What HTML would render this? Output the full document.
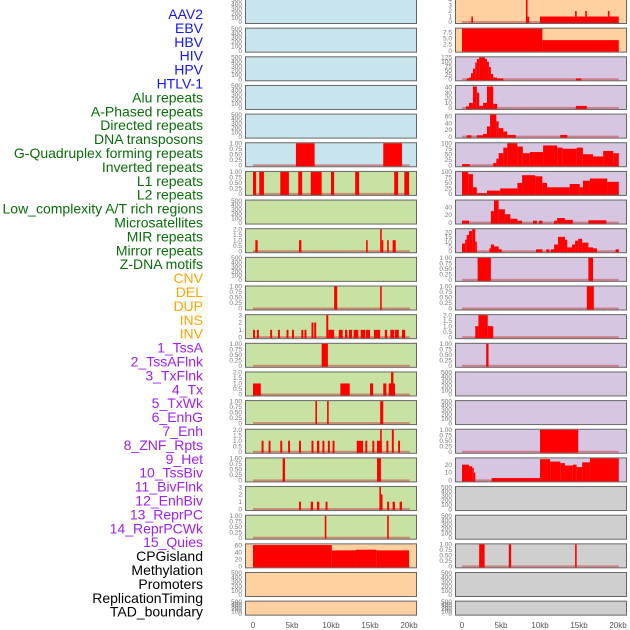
<!DOCTYPE html>
<html><head><meta charset="utf-8">
<style>
html,body{margin:0;padding:0;background:#fff;width:630px;height:630px;overflow:hidden}
svg{display:block}
.lab{font-family:"Liberation Sans",sans-serif;font-size:14px}
.tk{font-family:"Liberation Sans",sans-serif;font-size:6.5px;fill:#777}
.xt{font-family:"Liberation Sans",sans-serif;font-size:8px;fill:#555}
</style></head><body>
<svg id="chart" width="630" height="630"></svg>
<script>
const labels=["AAV2","EBV","HBV","HIV","HPV","HTLV-1","Alu repeats","A-Phased repeats","Directed repeats","DNA transposons","G-Quadruplex forming repeats","Inverted repeats","L1 repeats","L2 repeats","Low_complexity A/T rich regions","Microsatellites","MIR repeats","Mirror repeats","Z-DNA motifs","CNV","DEL","DUP","INS","INV","1_TssA","2_TssAFlnk","3_TxFlnk","4_Tx","5_TxWk","6_EnhG","7_Enh","8_ZNF_Rpts","9_Het","10_TssBiv","11_BivFlnk","12_EnhBiv","13_ReprPC","14_ReprPCWk","15_Quies","CPGisland","Methylation","Promoters","ReplicationTiming","TAD_boundary"];
const labelGroups=[0,0,0,0,0,0,1,1,1,1,1,1,1,1,1,1,1,1,1,2,2,2,2,2,3,3,3,3,3,3,3,3,3,3,3,3,3,3,3,4,4,4,4,4];
const groupColors=["#1414ff","#0a6e0a","#ffa500","#a020f0","#000"];
const xTickLabels=["0","5kb","10kb","15kb","20kb"];
const xTickValues=[0,5,10,15,20];
const E=[0,100,200,300,400,500],P=[0,0.25,0.5,0.75,1],H=[0,0.5,1,1.5,2],T3=[0,1,2,3];
const leftBg=["b","b","b","b","b","b","g","g","g","g","g","g","g","g","g","g","g","g","g","o","o","o"];
const rightBg=["o","o","p","p","p","p","p","p","p","p","p","p","p","p","p","p","p","y","y","y","y","y"];
const leftTicks=[E,E,E,E,E,P,P,E,H,E,P,T3,P,H,P,H,P,T3,P,[0,20,40,60],E,E];
const leftMax=[500,500,500,500,500,1,1,500,2,500,1,3,1,2,1,2,1,3,1,62,500,500];
const rightTicks=[[0,1,2,3,4],[0,2.5,5,7.5],[0,25,50,75,100,125],[0,10,20,30,40],[0,20,40,60],[0,25,50,75,100],[0,25,50,75,100],[0,20,40],[0,5,10,15,20],P,P,H,P,E,E,P,[0,10,20],E,E,P,E,E];
const rightMax=[4,9,125,43,65,100,100,58,23,1,1,2,1,500,500,1,28,500,500,1,500,500];
const leftSegs=[[],[],[],[],[],
[[5.5,7.9,1],[16.7,19.1,1]],
[[0,0.4,1],[0.8,1.4,1],[3.5,4.6,1],[5.8,6.3,1],[7.4,8.8,1],[10.0,10.4,1],[13.1,13.6,1],[18.1,18.6,1],[19.4,20.0,1]],
[],
[[0.3,0.6,1],[5.9,6.2,1],[14.5,14.7,1],[16.3,16.5,2],[16.5,16.6,1],[17.2,17.4,1],[17.9,18.3,1]],
[],
[[10.4,10.8,1],[16.3,16.5,1]],
[[0.0,0.25,1],[0.5,0.75,1],[2.2,2.45,1],[3.2,3.45,1],[4.3,4.55,1],[5.0,5.25,1],[6.2,6.45,1],[6.6,6.85,1],[7.5,7.75,2],[7.85,8.1,2],[9.4,9.65,3],[9.65,10.4,1],[11.0,11.5,1],[11.8,12.1,1],[12.3,12.7,1],[12.9,13.5,1],[13.8,14.4,1],[14.5,15.0,1],[15.5,16.3,1],[16.9,17.2,1],[17.6,18.1,1],[18.2,18.7,1],[19.1,19.5,1]],
[[8.8,9.6,1]],
[[0,1.0,1],[11.2,12.4,1],[15.0,15.4,1],[16.7,17.1,1],[17.4,18.2,1],[17.7,18.0,2]],
[[8.0,8.2,1],[9.5,9.7,1],[16.3,16.7,1]],
[[1.1,1.35,1],[2.0,2.25,1],[3.5,3.75,1],[4.5,4.75,1],[5.9,6.15,1],[7.5,7.75,1],[8.2,8.5,1],[8.9,9.15,1],[9.6,9.85,1],[10.2,10.45,1],[13.3,14.1,1],[14.4,14.65,1],[15.3,15.55,1],[15.9,16.5,1],[16.3,16.5,2],[17.1,17.35,1],[17.8,18.05,2],[18.6,18.85,1]],
[[3.8,4.1,1],[15.9,16.4,1]],
[[5.9,6.15,1],[7.4,7.7,1],[8.2,8.5,1],[9.3,9.55,1],[16.2,16.4,3],[16.4,16.6,2],[17.2,17.45,1],[17.9,18.2,1],[18.8,19.1,1]],
[[9.2,9.4,1],[17.2,17.4,1]],
[[0,10.1,60],[10.1,13.2,45],[13.2,15.8,47],[15.8,20.0,45]],
[],[]];
const rightSegs=[
[[1.2,1.4,1],[8.2,8.4,4],[8.4,8.6,1],[10.0,20.1,1],[14.5,14.7,2],[15.8,16.0,2],[18.7,18.9,2]],
[[0,10.3,9],[10.3,20.1,4.3]],
[[0.6,0.9,5],[0.9,1.15,10],[1.15,1.4,35],[1.4,1.7,60],[1.7,1.9,95],[1.9,2.2,115],[2.2,2.95,125],[2.95,3.2,115],[3.2,3.45,100],[3.45,3.7,70],[3.7,4.0,30],[4.0,4.5,10],[4.5,5.3,5],[14.6,15.3,5]],
[[0.5,0.9,3],[0.9,1.4,10],[1.4,1.9,42],[1.9,2.2,30],[2.2,2.7,4],[2.7,3.2,10],[3.2,4.0,42],[4.0,4.5,8],[14.6,16.0,4]],
[[0.6,1.2,4],[1.9,2.7,4],[2.7,3.2,8],[3.2,3.6,30],[3.6,4.4,65],[4.4,4.7,45],[4.7,5.3,25],[5.3,5.8,15],[5.8,6.9,5],[12.6,13.5,5]],
[[0,1,5],[4.0,4.4,10],[4.4,4.7,30],[4.7,5.3,55],[5.3,5.8,80],[5.8,7.1,100],[7.1,7.8,85],[7.8,8.7,55],[8.7,10.4,60],[10.4,12.2,90],[12.2,12.9,80],[12.9,14.7,75],[14.7,15.5,80],[15.5,16.8,50],[16.8,18.1,40],[18.1,19.4,65],[19.4,20.1,55]],
[[0,0.8,100],[0.8,1.4,90],[1.4,1.9,30],[1.9,3.2,3],[3.2,4.9,15],[4.9,7.1,25],[7.1,7.7,50],[7.7,9.4,85],[9.4,10.3,80],[10.3,10.9,50],[10.9,13.8,30],[13.8,15.1,45],[15.1,15.5,30],[15.5,16.4,60],[16.4,18.6,70],[18.6,20.1,55]],
[[0,0.9,5],[3.7,4.1,30],[4.1,4.7,58],[4.7,5.5,35],[5.5,6.2,22],[6.2,7.1,10],[7.1,7.7,5],[9.1,9.6,5],[9.9,10.3,5],[11.8,12.2,5],[12.2,13.2,12],[13.2,14.2,7],[16.2,18.5,6]],
[[0,0.4,8],[0.4,0.6,12],[0.6,0.9,17],[0.9,1.3,21],[1.3,1.7,23],[1.7,1.9,10],[3.5,3.7,3],[3.7,4.1,7],[4.1,4.7,5],[4.7,5.1,2],[9.5,10.3,2],[10.8,11.2,2],[11.4,11.8,2],[11.8,12.3,7],[12.3,13.2,15],[13.2,13.5,12],[13.5,14.1,4],[14.1,14.5,7],[14.5,14.9,11],[14.9,15.4,13],[15.4,16.2,9],[16.2,16.8,4],[16.8,17.3,3],[19.7,20.1,2]],
[[2.0,3.7,1],[16.2,16.8,1]],
[[16.0,16.9,1]],
[[1.7,2.1,1],[2.1,3.3,2],[3.3,4.0,1]],
[[3.1,3.4,1]],
[],[],
[[10.0,14.9,1]],
[[0,0.9,20],[0.9,1.3,18],[1.3,1.5,16],[1.5,1.7,10],[3.8,10,3],[10,11.3,27],[11.3,12.6,24],[12.6,13.2,22],[13.2,14.2,19],[14.2,14.7,20],[14.7,15.4,17],[15.4,16.4,23],[16.4,20.1,28]],
[],[],
[[2.2,2.9,1],[6.0,6.3,1],[14.5,14.7,1]],
[],[]];

const bgc={b:"#c8e4ec",g:"#c8e2a4",o:"#ffd1a0",p:"#d6c6e2",y:"#cfcfcf"};
const NS="http://www.w3.org/2000/svg";
const svg=document.getElementById("chart");
function mk(t,a,txt){const e=document.createElementNS(NS,t);for(const k in a)e.setAttribute(k,a[k]);if(txt!==undefined)e.textContent=txt;svg.appendChild(e);return e;}
const KB=7.8;
function xScale(col,kb){return (col===0?253:462)+kb*KB;}
function rowTop(i){return -1+i*28.65;}
function rowH(i){return i===21?15:25;}

labels.forEach((l,k)=>{
  const t=mk("text",{x:203,y:14+k*13.9+5,"text-anchor":"end",class:"lab",fill:groupColors[labelGroups[k]]},l);
  
  
});

function drawPanel(col,i,bg,ticks,ymax,segs){
  const px=col===0?245:455, top=rowTop(i), h=rowH(i);
  const r=mk("rect",{x:px+0.5,y:top+0.5,width:171,height:h-1,fill:bgc[bg],stroke:"#666","stroke-width":1});
  
  
  const base=top+h-2, inner=h-3;
  const yS=v=>base-v/ymax*inner;
  ticks.forEach(v=>{
    const t=mk("text",{x:px-3,y:yS(v)+2.2,"text-anchor":"end",class:"tk"},String(v===0?"0":(ymax<=1?v.toFixed(2):(ymax<=2&&ticks.length===5?v.toFixed(1):(ticks===rightTicks[1]?v.toFixed(1):v)))));
    
    
  });
  if(!(bg==="b"&&segs.length===0&&ymax===500) || true){
    if(segs.length||ymax!==500){
      const bl=mk("rect",{x:xScale(col,0),y:base-1,width:20.1*KB,height:2,fill:"rgba(200,70,70,0.55)"});
      
      
    }
  }
  segs.forEach(s=>{
    const x0=xScale(col,s[0]),x1=xScale(col,s[1]);
    const b=mk("rect",{x:x0,y:yS(s[2]),width:Math.max(1.6,x1-x0),height:base-yS(s[2])+1,fill:"#ff0000"});
    
    
  });
}
for(let i=0;i<22;i++){
  drawPanel(0,i,leftBg[i],leftTicks[i],leftMax[i],leftSegs[i]);
  drawPanel(1,i,rightBg[i],rightTicks[i],rightMax[i],rightSegs[i]);
}
[0,1].forEach(col=>{
  xTickValues.forEach((v,k)=>{
    const t=mk("text",{x:xScale(col,v),y:628,"text-anchor":"middle",class:"xt"},xTickLabels[k]);
    
    
  });
});
</script>
</body></html>
